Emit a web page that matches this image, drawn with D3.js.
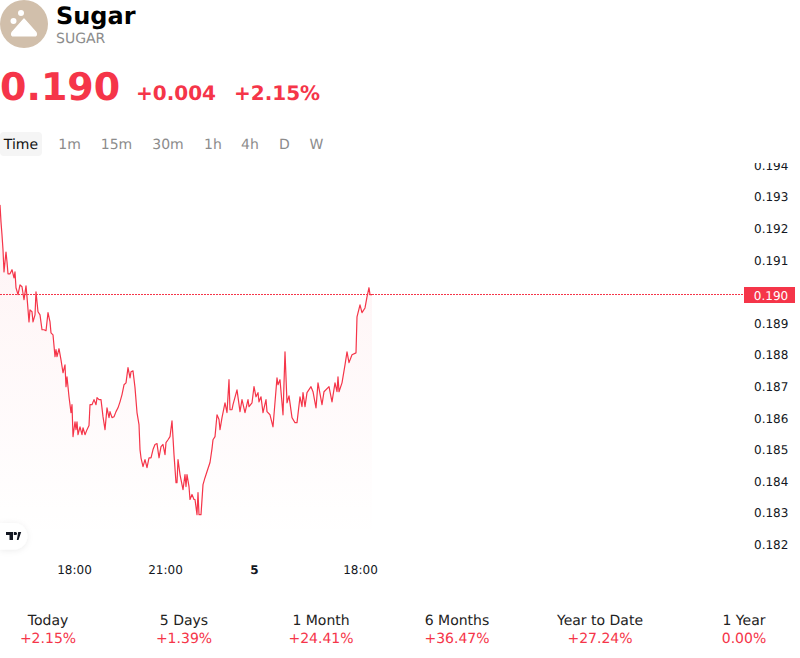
<!DOCTYPE html>
<html><head><meta charset="utf-8">
<script src="https://cdn.jsdelivr.net/npm/d3@7"></script>
<style>html,body{margin:0;padding:0;background:#fff;overflow:hidden}svg{display:block}text{font-family:"DejaVu Sans",sans-serif;text-rendering:geometricPrecision}</style>
</head><body><svg id="c" width="800" height="658"></svg>
<script>
const barIndex=[0,1,2,3,4,5,6,7,8,10,12,14,15,16,18,20,22,24,26,27,29,30,32,33,35,36,38,40,42,44,46,48,50,51,53,55,56,57,59,61,63,65,66,67,69,71,72,73,75,76,77,78,80,82,83,85,87,89,90,92,94,96,97,99,101,103,105,107,109,110,112,114,116,118,120,122,124,126,128,130,131,133,135,137,139,140,141,143,145,147,149,151,153,155,157,159,161,163,165,166,168,170,172,174,176,177,178,180,183,185,186,187,189,190,192,194,195,197,198,199,201,203,205,208,210,212,213,215,217,219,220,222,225,227,229,230,232,233,237,240,242,245,248,249,252,254,256,258,259,261,263,266,267,270,273,277,278,280,283,285,287,289,292,295,297,300,302,303,305,307,311,313,316,318,322,324,329,332,335,337,338,339,342,345,347,349,352,356,357,360,362,365,367,369,370,372];
const prices=[.19275,.19221,.19180,.19133,.19063,.19095,.19126,.19095,.19057,.19057,.19070,.19044,.19063,.19013,.18991,.19022,.19016,.18975,.19019,.18984,.18905,.18943,.18937,.18905,.18927,.19000,.18937,.18927,.18880,.18880,.18877,.18934,.18905,.18870,.18864,.18795,.18817,.18795,.18820,.18785,.18744,.18769,.18700,.18731,.18668,.18618,.18643,.18542,.18589,.18564,.18589,.18548,.18573,.18548,.18570,.18548,.18564,.18577,.18643,.18643,.18659,.18643,.18665,.18659,.18659,.18605,.18564,.18633,.18602,.18621,.18602,.18605,.18621,.18633,.18652,.18675,.18706,.18712,.18760,.18728,.18747,.18750,.18697,.18618,.18580,.18501,.18475,.18447,.18469,.18444,.18475,.18475,.18501,.18517,.18520,.18475,.18510,.18517,.18485,.18523,.18532,.18542,.18592,.18485,.18396,.18396,.18469,.18422,.18374,.18422,.18384,.18422,.18384,.18343,.18359,.18343,.18343,.18295,.18365,.18295,.18295,.18390,.18412,.18441,.18460,.18504,.18532,.18542,.18611,.18596,.18564,.18602,.18649,.18618,.18722,.18627,.18627,.18643,.18690,.18621,.18659,.18618,.18659,.18637,.18649,.18700,.18668,.18681,.18652,.18668,.18618,.18659,.18621,.18611,.18573,.18728,.18706,.18722,.18611,.18810,.18649,.18671,.18602,.18586,.18586,.18668,.18637,.18681,.18637,.18681,.18700,.18684,.18633,.18712,.18643,.18684,.18700,.18652,.18712,.18684,.18731,.18684,.18712,.18769,.18810,.18776,.18801,.18807,.18921,.18959,.18934,.18949,.18984,.19013,.18991,.18991];
const priceTicks=[0.182,0.183,0.184,0.185,0.186,0.187,0.188,0.189,0.191,0.192,0.193,0.194];
const timeTicks=[74,165,254,360];
const timeLabels=["18:00","21:00","5","18:00"];
const intervals=["Time","1m","15m","30m","1h","4h","D","W"];
const intervalX=[21,69.5,116.5,168,213,250,284.5,316.5];
const periods=["Today","5 Days","1 Month","6 Months","Year to Date","1 Year"];
const periodChanges=["+2.15%","+1.39%","+24.41%","+36.47%","+27.24%","0.00%"];
const periodX=[48,184,321,457,600,744];
const lastPrice=0.1899;
const RED="#f53549";

const svg=d3.select("#c");
const x=d3.scaleLinear().domain([0,372]).range([0,372]);
const y=d3.scaleLinear().domain([0.182,0.193]).range([544.7,197]);
const pts=barIndex.map((b,i)=>({b,p:prices[i]}));

const defs=svg.append("defs");
const g=defs.append("linearGradient").attr("id","fill").attr("x1",0).attr("x2",0).attr("y1",0).attr("y2",1);
g.append("stop").attr("offset","0%").attr("stop-color",RED).attr("stop-opacity",0.06);
g.append("stop").attr("offset","100%").attr("stop-color",RED).attr("stop-opacity",0.0);
defs.append("clipPath").attr("id","axisClip").append("rect").attr("x",700).attr("y",163).attr("width",100).attr("height",400);
const sh=defs.append("filter").attr("id","sh").attr("x","-40%").attr("y","-40%").attr("width","180%").attr("height","180%");
sh.append("feDropShadow").attr("dx",0).attr("dy",1).attr("stdDeviation",3).attr("flood-color","#000").attr("flood-opacity",0.08);

// header
svg.append("circle").attr("cx",24).attr("cy",24).attr("r",24).attr("fill","#d1bfab");
svg.append("path").attr("d","M24 19 L36 32.5 Q37.5 36 34 36 L14 36 Q10.5 36 12 32.5 Z").attr("fill","#fff").attr("stroke","#fff").attr("stroke-width",1.2).attr("stroke-linejoin","round");
svg.append("circle").attr("cx",21).attr("cy",13).attr("r",3).attr("fill","#fff");
svg.append("circle").attr("cx",13.5).attr("cy",21).attr("r",3).attr("fill","#fff");
svg.append("text").attr("x",56).attr("y",24).attr("font-size",24).attr("font-weight",700).attr("fill","#000").text("Sugar");
svg.append("text").attr("x",56).attr("y",43).attr("font-size",14).attr("fill","#8c8c8c").text("SUGAR");
svg.append("text").attr("x",0).attr("y",100).attr("font-size",38).attr("font-weight",700).attr("fill",RED).text("0.190");
svg.append("text").attr("x",136).attr("y",100).attr("font-size",20).attr("font-weight",700).attr("fill",RED).text("+0.004");
svg.append("text").attr("x",234).attr("y",100).attr("font-size",20).attr("font-weight",700).attr("fill",RED).text("+2.15%");

// tabs
svg.append("rect").attr("x",0).attr("y",132).attr("width",42).attr("height",24).attr("rx",4).attr("fill","#f5f5f5");
svg.append("g").selectAll("text").data(intervals).join("text")
  .attr("x",(d,i)=>intervalX[i]).attr("y",149).attr("text-anchor","middle").attr("font-size",14)
  .attr("fill",(d,i)=>i===0?"#111":"#8c8c8c").text(d=>d);

// area + line
svg.append("path").datum(pts).attr("fill","url(#fill)")
  .attr("d",d3.area().x(d=>x(d.b)).y0(540).y1(d=>y(d.p)));
svg.append("path").datum(pts).attr("fill","none").attr("stroke",RED).attr("stroke-width",1.2).attr("stroke-linejoin","round")
  .attr("d",d3.line().x(d=>x(d.b)).y(d=>y(d.p)));
svg.append("line").attr("x1",0).attr("x2",744).attr("y1",y(lastPrice)).attr("y2",y(lastPrice))
  .attr("stroke",RED).attr("stroke-width",1).attr("stroke-dasharray","2 1").attr("shape-rendering","crispEdges");

// axes
const ya=svg.append("g").attr("clip-path","url(#axisClip)").append("g").attr("transform","translate(754,0)")
  .call(d3.axisRight(y).tickValues(priceTicks).tickSize(0).tickPadding(0).tickFormat(d3.format(".3f")));
ya.select(".domain").remove();
ya.selectAll("text").attr("font-size",12).attr("font-family",'"DejaVu Sans",sans-serif').attr("fill","#131722");
const xa=svg.append("g").attr("transform","translate(0,565)")
  .call(d3.axisBottom(x).tickValues(timeTicks).tickSize(0).tickPadding(0).tickFormat((d,i)=>timeLabels[i]));
xa.select(".domain").remove();
xa.selectAll("text").attr("font-size",12).attr("font-family",'"DejaVu Sans",sans-serif').attr("fill","#131722")
  .attr("font-weight",(d,i)=>timeLabels[i]==="5"?700:400);
svg.append("rect").attr("x",744).attr("y",287).attr("width",51).attr("height",16).attr("fill",RED);
svg.append("text").attr("x",771).attr("y",299.5).attr("font-size",12).attr("text-anchor","middle").attr("fill","#fff").text("0.190");

// TradingView badge
svg.append("path").attr("d","M0 523 H14 A13 13 0 0 1 14 549.5 H0 Z").attr("fill","#fff").attr("filter","url(#sh)");
svg.append("path").attr("d","M6 532 H13 V540 H9.5 V535 H6 Z M13.8 532 H15.6 A1.5 1.5 0 1 1 15.6 535 H13.8 Z M16.8 540 L18.2 532 H21.2 L18.5 540 Z").attr("fill","#131722");

// period row
const pr=svg.append("g");
pr.selectAll("text.a").data(periods).join("text").attr("class","a")
  .attr("x",(d,i)=>periodX[i]).attr("y",625).attr("text-anchor","middle").attr("font-size",14).attr("fill","#222").text(d=>d);
pr.selectAll("text.b").data(periodChanges).join("text").attr("class","b")
  .attr("x",(d,i)=>periodX[i]).attr("y",643).attr("text-anchor","middle").attr("font-size",14).attr("fill",RED).text(d=>d);
</script></body></html>
